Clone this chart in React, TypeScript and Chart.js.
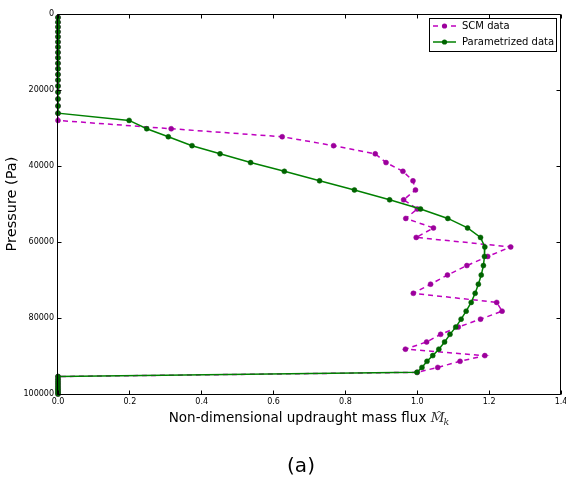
import React, { useEffect, useRef } from "react";
import { Chart, registerables } from "chart.js";

Chart.register(...registerables);

// Pressure levels (Pa), shared by both series
const pressureLevels = [
  900, 2150, 3400, 4700, 6000, 7350, 8700, 10100, 11500, 12950, 14400, 15900, 17400, 18950, 20550,
  22350, 24200, 26100,
  28000, 30200, 32300, 34650, 36800, 39100, 41400, 43900, 46300, 48900, 51300, 53800, 56300,
  58800, 61300, 63800, 66200, 68700, 71100, 73500, 75900, 78200, 80300, 82400, 84300, 86300,
  88200, 89900, 91400, 93000, 94300,
  95400, 96100, 96800, 97400, 98000, 98600, 99100, 99600, 100000,
];

// SCM data (non-dimensional mass flux)
const scmFlux = [
  0, 0, 0, 0, 0, 0, 0, 0, 0, 0, 0, 0, 0, 0, 0,
  0, 0, 0,
  0, 0.315, 0.624, 0.767, 0.883, 0.913, 0.96, 0.988, 0.995, 0.962, 1.0, 0.968, 1.045,
  0.997, 1.26, 1.196, 1.138, 1.084, 1.037, 0.989, 1.221, 1.236, 1.176, 1.114, 1.065, 1.026,
  0.967, 1.188, 1.119, 1.057, 1.0,
  0, 0, 0, 0, 0, 0, 0, 0, 0,
];

// Parametrized data
const paramFlux = [
  0, 0, 0, 0, 0, 0, 0, 0, 0, 0, 0, 0, 0, 0, 0,
  0, 0, 0,
  0.198, 0.247, 0.307, 0.373, 0.451, 0.536, 0.63, 0.728, 0.825, 0.923, 1.009, 1.085, 1.14,
  1.176, 1.188, 1.187, 1.184, 1.178, 1.17, 1.161, 1.15, 1.136, 1.122, 1.107, 1.091, 1.076,
  1.06, 1.043, 1.027, 1.013, 0.999,
  0, 0, 0, 0, 0, 0, 0, 0, 0,
];

const xTicks = [0, 0.2, 0.4, 0.6, 0.8, 1.0, 1.2, 1.4];
const yTicks = [0, 20000, 40000, 60000, 80000, 100000];
const seriesLabels = ["SCM data", "Parametrized data"];
const xTitle = "Non-dimensional updraught mass flux";
const yTitle = "Pressure (Pa)";
const panelLabel = "(a)";

const FAMILY = "'DejaVu Sans', sans-serif";
const SERIF = "'DejaVu Serif', serif";
const MAGENTA = "#bf00bf";
const MAGENTA_PT = "#9c009c";
const GREEN = "#008000";
const GREEN_PT = "#006400";

const decorPlugin = {
  id: "decor",
  afterDraw(chart: any) {
    const { ctx, chartArea: a, scales } = chart;
    const xs = scales.x;
    const ys = scales.y;
    ctx.save();
    // frame
    ctx.strokeStyle = "#000";
    ctx.lineWidth = 1;
    const L = Math.round(a.left) - 0.5;
    const R = Math.round(a.right) - 0.5;
    const T = Math.round(a.top) + 0.5;
    const B = Math.round(a.bottom) + 0.5;
    ctx.beginPath();
    ctx.rect(L, T, R - L, B - T);
    ctx.stroke();
    // inward ticks on all sides
    const tl = 4;
    ctx.beginPath();
    for (const v of xTicks) {
      const p = Math.floor(xs.getPixelForValue(v)) + 0.5;
      ctx.moveTo(p, B);
      ctx.lineTo(p, B - tl);
      ctx.moveTo(p, T);
      ctx.lineTo(p, T + tl);
    }
    for (const v of yTicks) {
      const p = Math.floor(ys.getPixelForValue(v)) + 0.5;
      ctx.moveTo(L, p);
      ctx.lineTo(L + tl, p);
      ctx.moveTo(R, p);
      ctx.lineTo(R - tl, p);
    }
    ctx.stroke();

    // legend
    const bx = 429.5, by = 18.5, bw = 127, bh = 33;
    ctx.fillStyle = "#fff";
    ctx.fillRect(bx, by, bw, bh);
    ctx.strokeStyle = "#000";
    ctx.lineWidth = 1;
    ctx.strokeRect(bx, by, bw, bh);
    const rows = [
      { y: 26, color: MAGENTA, pt: MAGENTA_PT, dash: [5, 4] },
      { y: 42, color: GREEN, pt: GREEN_PT, dash: [] as number[] },
    ];
    rows.forEach((r, i) => {
      ctx.strokeStyle = r.color;
      ctx.lineWidth = 1.5;
      ctx.setLineDash(r.dash);
      ctx.beginPath();
      ctx.moveTo(433, r.y);
      ctx.lineTo(456, r.y);
      ctx.stroke();
      ctx.setLineDash([]);
      ctx.fillStyle = r.pt;
      ctx.beginPath();
      ctx.arc(444.5, r.y, 2.6, 0, Math.PI * 2);
      ctx.fill();
      ctx.fillStyle = "#000";
      ctx.font = `10px ${FAMILY}`;
      ctx.textAlign = "left";
      ctx.textBaseline = "middle";
      ctx.fillText(seriesLabels[i], 462, r.y + 0.5);
    });

    // x-axis title with math symbol
    const cx = (a.left + a.right) / 2;
    const base = 422;
    ctx.textBaseline = "alphabetic";
    ctx.textAlign = "left";
    ctx.font = `13.5px ${FAMILY}`;
    const w1 = ctx.measureText(xTitle + " ").width;
    ctx.font = `italic 13.5px ${SERIF}`;
    const wM = ctx.measureText("M").width;
    ctx.font = `italic 9.5px ${SERIF}`;
    const wk = ctx.measureText("k").width;
    const total = w1 + wM + wk;
    const x0 = cx - total / 2;
    ctx.fillStyle = "#000";
    ctx.font = `13.5px ${FAMILY}`;
    ctx.fillText(xTitle + " ", x0, base);
    ctx.fillStyle = "#333";
    ctx.font = `italic 13.5px ${SERIF}`;
    ctx.fillText("M", x0 + w1, base);
    ctx.font = `8px ${SERIF}`;
    ctx.textAlign = "center";
    ctx.fillText("^", x0 + w1 + wM / 2 + 1.5, base - 6);
    ctx.textAlign = "left";
    ctx.font = `italic 9.5px ${SERIF}`;
    ctx.fillText("k", x0 + w1 + wM - 1, base + 3);

    // panel label
    ctx.fillStyle = "#000";
    ctx.font = `20px ${FAMILY}`;
    ctx.textAlign = "center";
    ctx.fillText(panelLabel, 301, 472);
    ctx.restore();
  },
};

export default function App() {
  const canvasRef = useRef<HTMLCanvasElement | null>(null);

  useEffect(() => {
    if (!canvasRef.current) return;
    const chart = new Chart(canvasRef.current, {
      type: "line",
      data: {
        datasets: [
          {
            label: seriesLabels[0],
            data: pressureLevels.map((p, i) => ({ x: scmFlux[i], y: p })),
            borderColor: MAGENTA,
            borderDash: [5, 4],
            borderWidth: 1.5,
            pointRadius: 2.5,
            pointBackgroundColor: MAGENTA_PT,
            pointBorderColor: MAGENTA_PT,
            pointBorderWidth: 0.5,
            fill: false,
            tension: 0,
            clip: false,
            order: 2,
          } as any,
          {
            label: seriesLabels[1],
            data: pressureLevels.map((p, i) => ({ x: paramFlux[i], y: p })),
            borderColor: GREEN,
            borderWidth: 1.5,
            pointRadius: 2.5,
            pointBackgroundColor: GREEN_PT,
            pointBorderColor: GREEN_PT,
            pointBorderWidth: 0.5,
            fill: false,
            tension: 0,
            clip: false,
            order: 1,
          } as any,
        ],
      },
      options: {
        animation: false,
        responsive: false,
        maintainAspectRatio: false,
        devicePixelRatio: 1,
        events: [],
        layout: { padding: { top: 14, right: 5, left: 0, bottom: 0 } },
        plugins: {
          legend: { display: false },
          tooltip: { enabled: false },
          title: { display: false },
        },
        scales: {
          x: {
            type: "linear",
            min: 0,
            max: 1.4,
            grid: { display: false, drawTicks: false },
            border: { display: false },
            ticks: {
              autoSkip: false,
              maxRotation: 0,
              padding: 3,
              color: "#000",
              font: { family: FAMILY, size: 8 },
              callback: (v: any) => Number(v).toFixed(1),
            },
            afterBuildTicks: (s: any) => {
              s.ticks = xTicks.map((v) => ({ value: v }));
            },
            afterFit: (s: any) => {
              s.height = 83;
              s.paddingLeft = 0;
              s.paddingRight = 0;
            },
          },
          y: {
            type: "linear",
            reverse: true,
            min: 0,
            max: 100000,
            grid: { display: false, drawTicks: false },
            border: { display: false },
            ticks: {
              autoSkip: false,
              padding: 4,
              color: "#000",
              font: { family: FAMILY, size: 8 },
              callback: (v: any) => String(v),
            },
            afterBuildTicks: (s: any) => {
              s.ticks = yTicks.map((v) => ({ value: v }));
            },
            title: {
              display: true,
              text: yTitle,
              color: "#000",
              font: { family: FAMILY, size: 14.5 },
              padding: { top: 4, bottom: 0 },
            },
            afterFit: (s: any) => {
              s.width = 58;
              s.paddingTop = 0;
              s.paddingBottom = 0;
            },
          },
        },
      } as any,
      plugins: [decorPlugin],
    });
    return () => chart.destroy();
  }, []);

  return (
    <div style={{ position: "fixed", left: 0, top: 0, width: 566, height: 477, background: "#fff" }}>
      <canvas ref={canvasRef} width={566} height={477} style={{ display: "block" }} />
    </div>
  );
}
